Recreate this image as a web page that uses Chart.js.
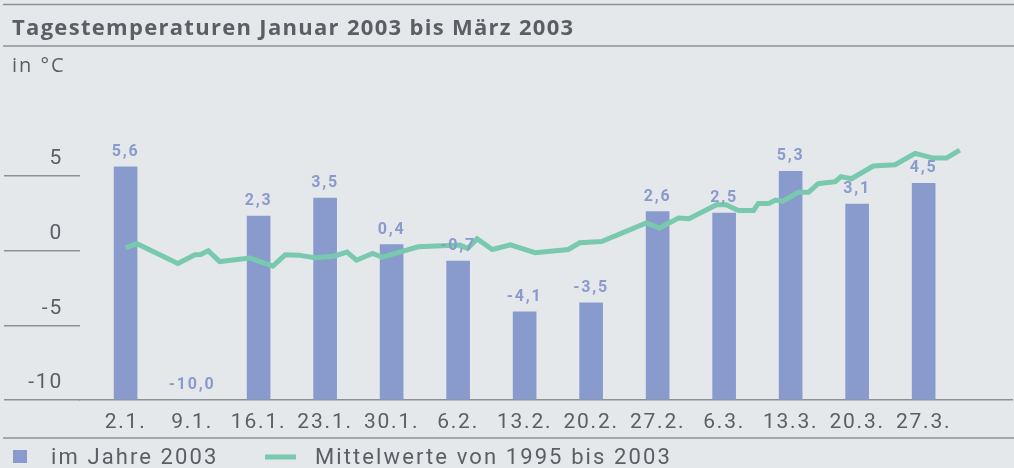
<!DOCTYPE html>
<html>
<head>
<meta charset="utf-8">
<script src="https://cdn.jsdelivr.net/npm/chart.js@4"></script>
<style>
  html, body { margin: 0; padding: 0; background: #e5e8eb; }
  canvas { display: block; }
</style>
</head>
<body>
<canvas id="tempChart" width="1014" height="468"></canvas>
<script>
// weekly values 2003 (day of year) and daily means 1995-2003 (kink points)
const barDays = [2, 9, 16, 23, 30, 37, 44, 51, 58, 65, 72, 79, 86];
const barLabels = ['2.1.', '9.1.', '16.1.', '23.1.', '30.1.', '6.2.', '13.2.', '20.2.', '27.2.', '6.3.', '13.3.', '20.3.', '27.3.'];
const barValues = [5.6, -10.0, 2.3, 3.5, 0.4, -0.7, -4.1, -3.5, 2.6, 2.5, 5.3, 3.1, 4.5];

const lineDays = [2, 3.2, 7.5, 9.3, 9.9, 10.7, 11.9, 15.1, 17.5, 18.8, 20.2, 21.9, 23.9, 25.3, 26.3, 28, 29,
    32.8, 37.2, 38, 39, 40.6, 42.5, 45.1, 48.6, 49.8, 52.1, 56.8, 58.2, 60.2, 61.3, 64.2, 65.2, 66.5,
    68.1, 68.6, 69.7, 70.4, 71.2, 72.8, 73.9, 74.9, 76.7, 77.3, 78.4, 80.7, 83, 85.1, 87, 88.4, 89.8];
const lineValues = [0.2, 0.45, -0.87, -0.29, -0.27, -0.02, -0.74, -0.51, -1.05, -0.29, -0.31, -0.49, -0.38, -0.11, -0.65, -0.2, -0.45,
    0.25, 0.36, 0.13, 0.78, 0.07, 0.38, -0.15, 0.07, 0.52, 0.6, 1.85, 1.5, 2.17, 2.12, 3.06, 3.06, 2.68,
    2.68, 3.15, 3.15, 3.37, 3.3, 3.9, 3.9, 4.47, 4.6, 4.94, 4.8, 5.65, 5.74, 6.5, 6.18, 6.18, 6.72];

const yTicks = [-10, -5, 0, 5];

const chartTitle = 'Tagestemperaturen Januar 2003 bis März 2003';
const unitLabel = 'in °C';

const barColor = '#899bcd';
const lineColor = '#78c9ad';
const textColor = '#5a5f65';
const ruleColor = '#8c9196';

const decorations = {
    id: 'decorations',
    beforeDraw(chart) {
        const ctx = chart.ctx;
        ctx.letterSpacing = '1.8px';
        ctx.save();
        ctx.fillStyle = '#e5e8eb';
        ctx.fillRect(0, 0, chart.width, chart.height);
        ctx.strokeStyle = ruleColor;
        ctx.lineWidth = 1.5;
        [4.5, 46, 438].forEach(function(y) {
            ctx.beginPath();
            ctx.moveTo(3, y);
            ctx.lineTo(chart.width, y);
            ctx.stroke();
        });
        ctx.fillStyle = textColor;
        ctx.textBaseline = 'alphabetic';
        ctx.letterSpacing = '1.3px';
        ctx.font = 'bold 22px "Open Sans"';
        ctx.fillText(chartTitle, 12, 35);
        ctx.letterSpacing = '2px';
        ctx.font = '20px "Open Sans"';
        ctx.fillText(unitLabel, 12, 72);

        // legend
        const ds = chart.data.datasets;
        ctx.letterSpacing = '2.1px';
        ctx.font = '22px Roboto';
        ctx.fillStyle = ds[1].backgroundColor;
        ctx.fillRect(13, 450, 14, 13);
        ctx.fillStyle = textColor;
        ctx.fillText(ds[1].label, 51, 464);
        ctx.strokeStyle = ds[0].borderColor;
        ctx.lineWidth = 5;
        ctx.beginPath();
        ctx.moveTo(265, 457);
        ctx.lineTo(296, 457);
        ctx.stroke();
        ctx.fillText(ds[0].label, 315, 464);
        ctx.restore();
    },
    afterDatasetsDraw(chart) {
        const ctx = chart.ctx;
        const meta = chart.getDatasetMeta(1);
        ctx.save();
        ctx.font = 'bold 16px Roboto';
        ctx.fillStyle = barColor;
        ctx.textAlign = 'center';
        ctx.textBaseline = 'middle';
        meta.data.forEach(function(bar, i) {
            const txt = barValues[i].toFixed(1).replace('.', ',');
            ctx.fillText(txt, bar.x, bar.y - 15);
        });
        ctx.restore();
    }
};

const ctx = document.getElementById('tempChart').getContext('2d');

new Chart(ctx, {
    type: 'bar',
    data: {
        datasets: [{
            type: 'line',
            label: 'Mittelwerte von 1995 bis 2003',
            data: lineDays.map((d, i) => ({ x: d, y: lineValues[i] })),
            borderColor: lineColor,
            backgroundColor: lineColor,
            borderWidth: 5,
            pointRadius: 0,
            tension: 0,
            fill: false,
            order: 0
        }, {
            type: 'bar',
            label: 'im Jahre 2003',
            data: barDays.map((d, i) => ({ x: d, y: barValues[i] })),
            backgroundColor: barColor,
            borderWidth: 0,
            barThickness: 23,
            base: -10,
            order: 1
        }]
    },
    options: {
        responsive: false,
        animation: false,
        layout: {
            padding: { top: 101, left: 4, right: 2, bottom: 0 }
        },
        plugins: {
            legend: { display: false },
            title: { display: false },
            tooltip: { enabled: false }
        },
        scales: {
            x: {
                type: 'linear',
                min: -2.8,
                max: 95.3,
                offset: false,
                afterBuildTicks: s => { s.ticks = barDays.map(d => ({ value: d })); },
                afterFit: s => { s.height = 68; },
                grid: { display: false },
                border: { display: true, color: ruleColor, width: 1.5 },
                ticks: {
                    autoSkip: false,
                    maxRotation: 0,
                    padding: 2,
                    color: textColor,
                    font: { family: 'Roboto', size: 21 },
                    callback: (v, i) => barLabels[i]
                }
            },
            y: {
                type: 'linear',
                min: -10,
                max: 10,
                afterBuildTicks: s => { s.ticks = yTicks.map(v => ({ value: v })); },
                afterFit: s => { s.width = 76; },
                grid: {
                    drawOnChartArea: false,
                    drawTicks: true,
                    tickLength: 76,
                    color: ruleColor,
                    lineWidth: 1.5
                },
                border: { display: false },
                ticks: {
                    padding: -59,
                    labelOffset: -17,
                    color: textColor,
                    font: { family: 'Roboto', size: 21 }
                }
            }
        }
    },
    plugins: [decorations]
});
</script>
</body>
</html>
